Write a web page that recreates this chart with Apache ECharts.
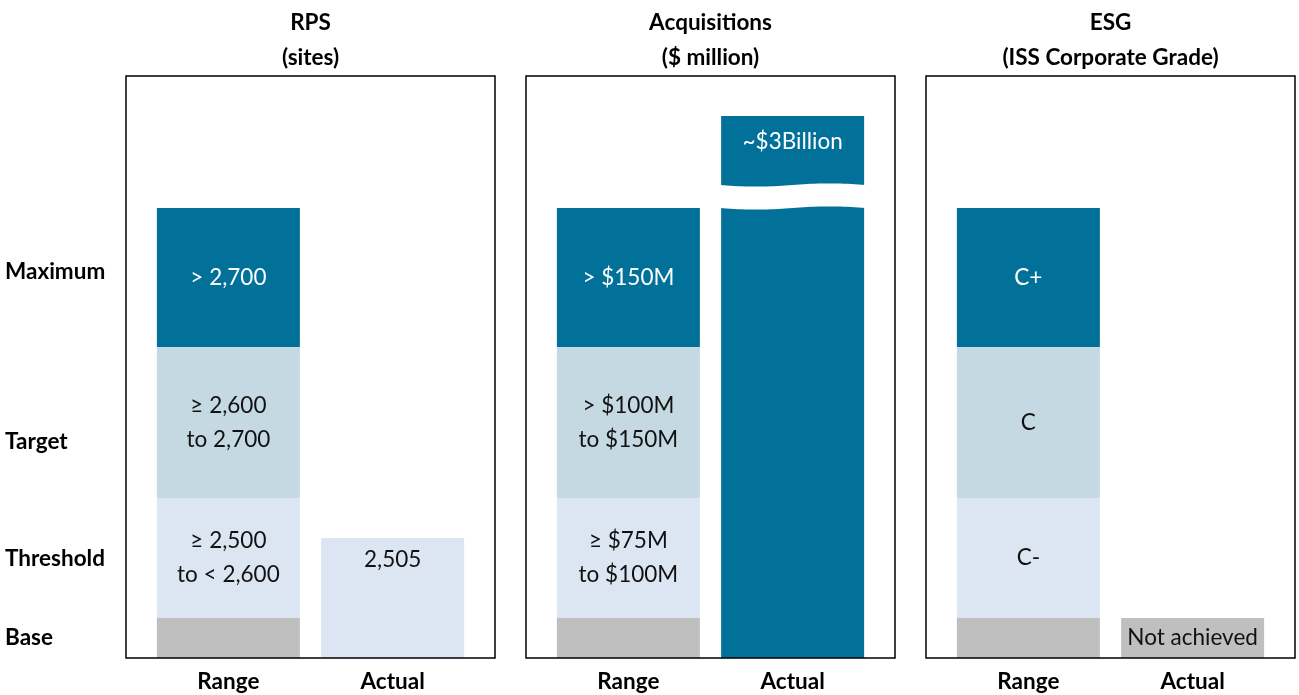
<!DOCTYPE html>
<html><head><meta charset="utf-8">
<script src="https://cdn.jsdelivr.net/npm/echarts@6/dist/echarts.min.js"></script>
<style>html,body{margin:0;padding:0;background:#fff}#c{width:1299px;height:695px}</style>
</head><body><div id="c"></div>
<script>
// ---- data ----
const categories = ['Range', 'Actual'];
const panelTitles = ['RPS\n(sites)', 'Acquisitions\n($ million)', 'ESG\n(ISS Corporate Grade)'];
const rowLabels = ['Maximum', 'Target', 'Threshold', 'Base'];
// segment heights of the Range column (relative units)
const baseSeg = [4, 4, 4];
const thresholdSeg = [12, 12, 12];
const targetSeg = [15.1, 15.1, 15.1];
const maximumSeg = [13.9, 13.9, 13.9];
const thresholdText = ['≥ 2,500\nto < 2,600', '≥ $75M\nto $100M', 'C-'];
const targetText = ['≥ 2,600\nto 2,700', '> $100M\nto $150M', 'C'];
const maximumText = ['> 2,700', '> $150M', 'C+'];
const actualValue = [12, 54.2, 4];
const actualText = ['2,505', '~$3Billion', 'Not achieved'];
const breakBand = [null, [45, 47.3], null]; // axis break on the Acquisitions actual bar

// ---- styling ----
const FONT = 'Lato, "Open Sans", sans-serif';
const TEAL = '#01719A', MID = '#C5D9E3', LIGHT = '#DCE6F2', GRAY = '#BFBFBF';
const actualColor = [LIGHT, TEAL, GRAY];
const actualLabelColor = ['#111', '#fff', '#111'];
const actualLabelPos = ['insideTop', 'insideTop', 'inside'];
const actualLabelDist = [5, 9, 5];
const boxLeft = [126, 526, 926], boxW = 369, boxTop = 76, boxBottom = 658;

const grids = [], xAxes = [], yAxes = [], series = [], graphics = [];
const lbl = (color) => ({show: true, position: 'inside', color: color, fontFamily: FONT, fontSize: 22.5, lineHeight: 34});

for (let p = 0; p < 3; p++) {
  grids.push({left: boxLeft[p] + 20.25, width: 328.5, top: boxTop, height: boxBottom - boxTop});
  xAxes.push({type: 'category', gridIndex: p, data: categories,
    axisLine: {show: false}, axisTick: {show: false},
    axisLabel: {color: '#000', fontFamily: FONT, fontWeight: 'bold', fontSize: 22.5, margin: 12}});
  yAxes.push({type: 'value', gridIndex: p, min: 0, max: 58.2, show: false, splitLine: {show: false}});
  const common = {type: 'bar', xAxisIndex: p, yAxisIndex: p, stack: 's' + p, barWidth: 143, silent: true};
  series.push(Object.assign({}, common, {name: 'Base', data: [baseSeg[p], '-'], itemStyle: {color: GRAY}}));
  series.push(Object.assign({}, common, {name: 'Threshold', data: [thresholdSeg[p], '-'], itemStyle: {color: LIGHT},
    label: Object.assign(lbl('#111'), {formatter: () => thresholdText[p]})}));
  series.push(Object.assign({}, common, {name: 'Target', data: [targetSeg[p], '-'], itemStyle: {color: MID},
    label: Object.assign(lbl('#111'), {formatter: () => targetText[p]})}));
  series.push(Object.assign({}, common, {name: 'Maximum', data: [maximumSeg[p], '-'], itemStyle: {color: TEAL},
    label: Object.assign(lbl('#fff'), {formatter: () => maximumText[p]})}));
  series.push(Object.assign({}, common, {name: 'Actual', data: ['-', actualValue[p]], itemStyle: {color: actualColor[p]},
    label: Object.assign(lbl(actualLabelColor[p]), {position: actualLabelPos[p], distance: actualLabelDist[p], formatter: () => actualText[p]})}));
  if (breakBand[p]) {
    const band = breakBand[p];
    series.push({type: 'custom', xAxisIndex: p, yAxisIndex: p, silent: true, z: 5,
      data: [[1, band[0], band[1]]],
      renderItem: function (params, api) {
        const c0 = api.coord([api.value(0), api.value(1)]);
        const c1 = api.coord([api.value(0), api.value(2)]);
        const half = 73, n = 40, pts = [];
        for (let i = 0; i <= n; i++) {
          const t = i / n;
          pts.push([c0[0] - half + 2 * half * t, c1[1] + 1.6 * Math.sin(2 * Math.PI * t)]);
        }
        for (let i = n; i >= 0; i--) {
          const t = i / n;
          pts.push([c0[0] - half + 2 * half * t, c0[1] + 1.6 * Math.sin(2 * Math.PI * t)]);
        }
        return {type: 'polygon', shape: {points: pts}, style: {fill: '#fff'}};
      }
    });
  }
  // panel box
  graphics.push({type: 'rect', z: 100, silent: true,
    shape: {x: boxLeft[p], y: boxTop, width: boxW, height: boxBottom - boxTop},
    style: {fill: 'none', stroke: '#000', lineWidth: 1.5}});
  // panel title
  graphics.push({type: 'text', z: 100, x: boxLeft[p] + boxW / 2, y: 5,
    style: {text: panelTitles[p], font: 'bold 22.5px ' + FONT, fill: '#000', textAlign: 'center', align: 'center', lineHeight: 35}});
}
const rowY = [272, 442, 559, 638];
rowLabels.forEach((t, i) => graphics.push({type: 'text', z: 100, x: 5, y: rowY[i],
  style: {text: t, font: 'bold 22.5px ' + FONT, fill: '#000', textVerticalAlign: 'middle', verticalAlign: 'middle'}}));

const chart = echarts.init(document.getElementById('c'), null, {renderer: 'canvas'});
chart.setOption({animation: false, grid: grids, xAxis: xAxes, yAxis: yAxes, series: series, graphic: graphics});
</script></body></html>
